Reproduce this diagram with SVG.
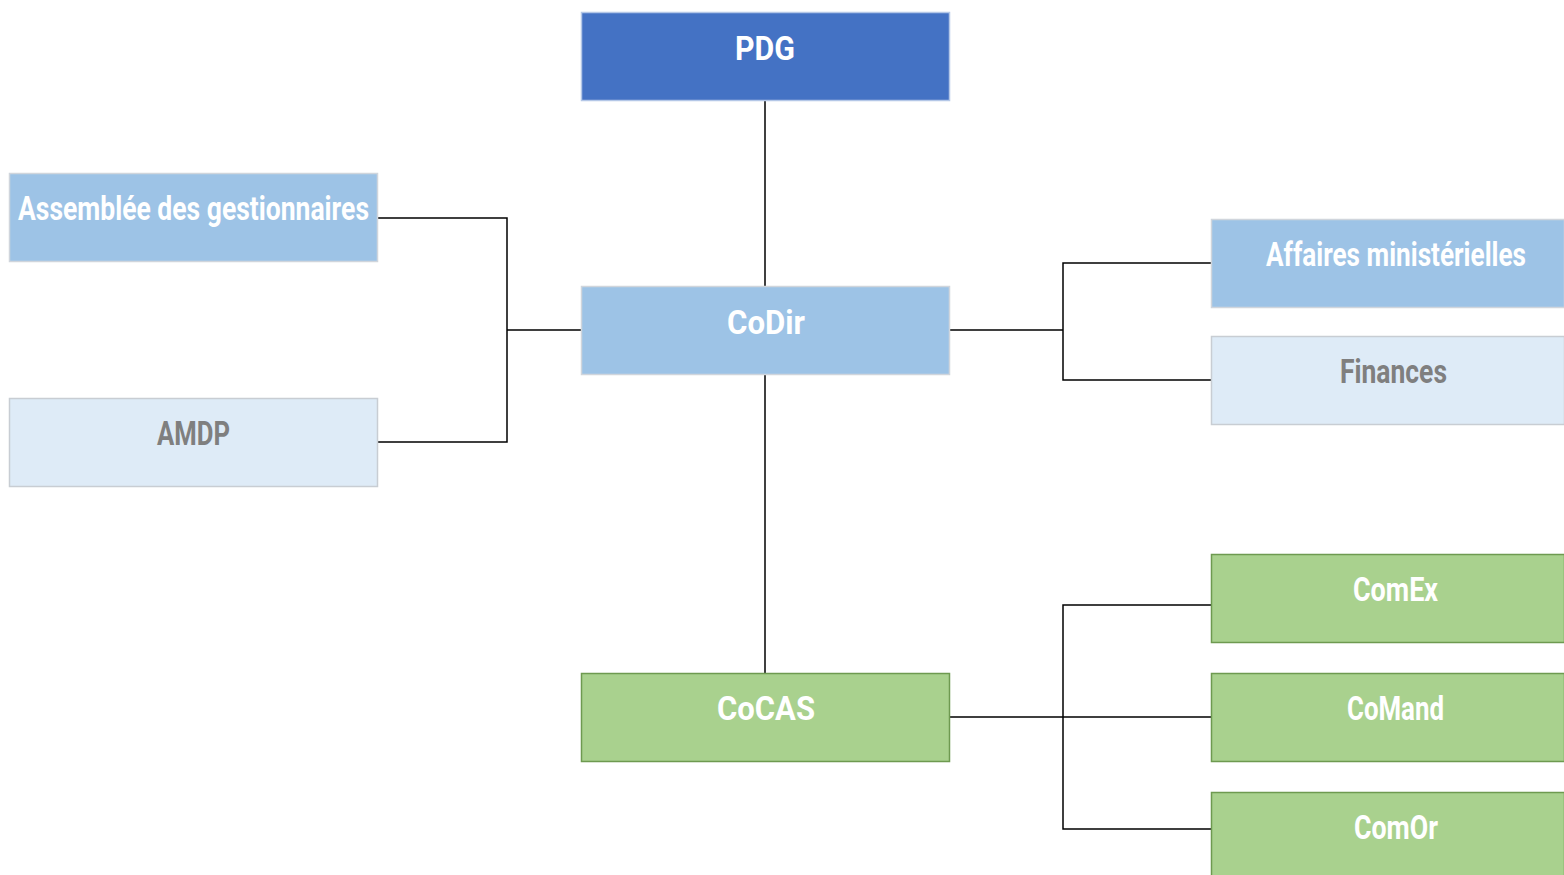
<svg xmlns="http://www.w3.org/2000/svg" width="1564" height="875" viewBox="0 0 1564 875">
<style>
.box{stroke-width:1.5}
.dark{fill:#4472C4;stroke:#B4C7E7}
.mid{fill:#9DC3E6;stroke:#D0D5DC}
.light{fill:#DEEBF7;stroke:#C8CDD3}
.green{fill:#A9D18E;stroke:#6E9A50}
text{font-family:Roboto,"Liberation Sans",sans-serif;font-weight:bold;font-size:33px;text-anchor:middle}
.w{fill:#FFFFFF}
.g{fill:#7F7F7F}
.c{fill:none;stroke:#000000;stroke-width:1.5}
</style>
<g id="connectors">
<path class="c" d="M765,100V286"/>
<path class="c" d="M765,374V673"/>
<path class="c" d="M377,218H507V442H377M507,330H581"/>
<path class="c" d="M949,330H1063M1211,263H1063V380H1211"/>
<path class="c" d="M949,717H1211M1211,605H1063V829H1211"/>
</g>
<g id="pdg"><rect class="box dark" x="581.5" y="12.5" width="368" height="88"/><text class="w" x="765" y="60" textLength="60" lengthAdjust="spacingAndGlyphs">PDG</text></g>
<g id="codir"><rect class="box mid" x="581.5" y="286.5" width="368" height="88"/><text class="w" x="766" y="334" textLength="78" lengthAdjust="spacingAndGlyphs">CoDir</text></g>
<g id="assemblee"><rect class="box mid" x="9.5" y="173.5" width="368" height="88"/><text class="w" x="193.5" y="220" textLength="351" lengthAdjust="spacingAndGlyphs">Assemblée des gestionnaires</text></g>
<g id="amdp"><rect class="box light" x="9.5" y="398.5" width="368" height="88"/><text class="g" x="193.5" y="445" textLength="73" lengthAdjust="spacingAndGlyphs">AMDP</text></g>
<g id="affaires"><rect class="box mid" x="1211.5" y="219.5" width="353" height="88"/><text class="w" x="1396" y="266" textLength="260" lengthAdjust="spacingAndGlyphs">Affaires ministérielles</text></g>
<g id="finances"><rect class="box light" x="1211.5" y="336.5" width="353" height="88"/><text class="g" x="1393.5" y="383" textLength="107" lengthAdjust="spacingAndGlyphs">Finances</text></g>
<g id="cocas"><rect class="box green" x="581.5" y="673.5" width="368" height="88"/><text class="w" x="766" y="720" textLength="98" lengthAdjust="spacingAndGlyphs">CoCAS</text></g>
<g id="comex"><rect class="box green" x="1211.5" y="554.5" width="353" height="88"/><text class="w" x="1395.5" y="601" textLength="85" lengthAdjust="spacingAndGlyphs">ComEx</text></g>
<g id="comand"><rect class="box green" x="1211.5" y="673.5" width="353" height="88"/><text class="w" x="1395.5" y="720" textLength="97" lengthAdjust="spacingAndGlyphs">CoMand</text></g>
<g id="comor"><rect class="box green" x="1211.5" y="792.5" width="353" height="84"/><text class="w" x="1396" y="839" textLength="84" lengthAdjust="spacingAndGlyphs">ComOr</text></g>
</svg>
